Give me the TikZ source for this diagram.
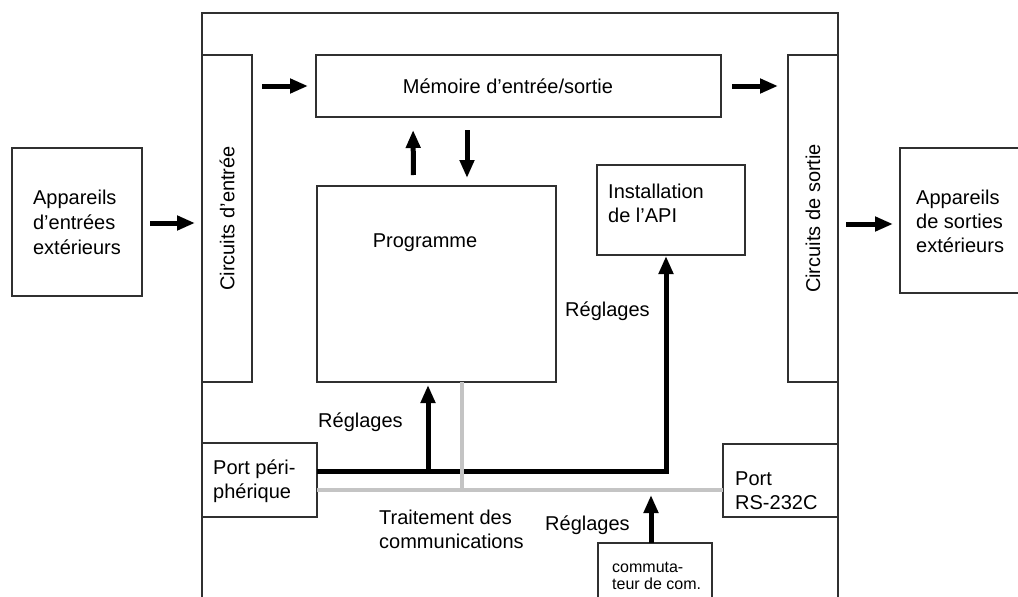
\documentclass[tikz,border=0pt]{standalone}
\usepackage{fontspec}
\setmainfont{Liberation Sans}
\usepackage{tikz}
\usetikzlibrary{arrows.meta,positioning,calc}
\definecolor{edge}{HTML}{303030}
\definecolor{bus}{HTML}{C4C4C4}
\tikzset{
  box/.style   ={draw=edge,line width=1.8pt,inner sep=0pt,outer sep=0pt,
                 align=left,font=\fontsize{20}{25}\selectfont},
  txt/.style   ={inner sep=0pt,align=left,font=\fontsize{20}{24}\selectfont},
  small/.style ={inner sep=0pt,align=left,font=\fontsize{16}{17}\selectfont},
  frame/.style ={draw=edge,line width=1.8pt},
  wire/.style  ={line width=5pt,draw=black},
  flow/.style  ={-{Triangle[length=18pt,width=14pt]},line width=5pt,draw=black},
  gbus/.style  ={line width=4pt,draw=bus}
}

\begin{document}
\begin{tikzpicture}[x=1pt,y=-1pt]
  \useasboundingbox (0,0) rectangle (1018,597);
  \clip (0,0) rectangle (1018,597);
  % PLC frame, open at the bottom
  \draw[frame] (202,620) -- (202,13) -- (838,13) -- (838,620);

  \node[box,minimum width=130pt,minimum height=148pt] (appin) at (77,222)
    {Appareils\\d’entrées\\extérieurs};
  % rotated boxes: north is the left side, south the right side
  \node[box,rotate=90,minimum width=327pt,minimum height=50pt] (cin) at (227,218.5)
    {Circuits d’entrée};
  \node[box,align=center,minimum width=405pt,minimum height=62pt] (mem) at (518.5,86) {};
  \node[txt] (memx) at (508,86) {Mémoire d’entrée/sortie};
  \node[box,minimum width=239pt,minimum height=196pt] (prog) at (436.5,284) {};
  \node[txt] (progx) at (425,243) {Programme};
  \node[box,minimum width=148pt,minimum height=90pt] (inst) at (671,210) {};
  \node[txt,anchor=west] (instx) at (608,203) {Installation\\de l’API};
  \node[box,rotate=90,minimum width=327pt,minimum height=50pt] (cout) at (813,218.5)
    {Circuits de sortie};
  \node[box,minimum width=130pt,minimum height=145pt] (appout) at (965,220.5) {};
  \node[txt,anchor=west] (appoutx) at (916,221) {Appareils\\de sorties\\extérieurs};

  \node[box,minimum width=115pt,minimum height=74pt] (portp) at (259.5,480) {};
  \node[txt,anchor=west] (portpx) at (213,481) {Port péri-\\phérique};
  \node[box,minimum width=115pt,minimum height=73pt] (rs) at (780.5,480.5) {};
  \node[txt,anchor=west] (rsx) at (735,491) {Port\\RS-232C};
  \node[box,minimum width=114pt,minimum height=77pt] (com) at (655,581.5) {};
  \node[small,anchor=west] (comx) at (612,576) {commuta-\\teur de com.};

  % data flow
  \draw[flow,shorten <=8pt,shorten >=7pt] (appin.east |- 0,223) -- (cin.north |- 0,223);
  \draw[flow,shorten <=10pt,shorten >=8pt] (cin.south |- mem.west) -- (mem.west);
  \draw[flow,shorten <=11pt,shorten >=10pt] (mem.east) -- (cout.north |- mem.east);
  \draw[flow,shorten <=8pt,shorten >=7pt] (cout.south |- 0,224) -- (appout.west |- 0,224);
  \draw[flow,shorten <=11pt,shorten >=13pt] ($(prog.north)+(-23,0)$) -- ($(mem.south)+(-105.5,0)$);
  \draw[flow,shorten <=13pt,shorten >=8pt] ($(mem.south)+(-51.5,0)$) -- ($(prog.north)+(30.5,0)$);

  % settings
  \draw[wire] ($(portp.east)+(0,-9)$) -| ($(inst.south)+(-5,60)$);
  \draw[flow,shorten >=1pt] ($(inst.south)+(-5,61)$) -- ($(inst.south)+(-5,0)$);
  \draw[flow,shorten <=-2pt,shorten >=3pt] ($(prog.south)+(-8.5,89)$) -- ($(prog.south)+(-8.5,0)$);
  \draw[flow,shorten >=5pt] ($(com.north)+(-4,0)$) -- ($(com.north)+(-4,-53)$);

  % communications
  \draw[gbus] ($(prog.south)+(25.5,0)$) -- ($(prog.south)+(25.5,108)$);
  \draw[gbus] ($(portp.east)+(0,10)$) -- ($(rs.west)+(0,9.5)$);

  \node[txt,anchor=west] (reg1) at (318,422) {Réglages};
  \node[txt,anchor=west] (reg2) at (565,311) {Réglages};
  \node[txt,anchor=west] (reg3) at (545,525) {Réglages};
  \node[txt,anchor=west] (trt) at (379,529) {Traitement des\\communications};
\end{tikzpicture}
\end{document}
